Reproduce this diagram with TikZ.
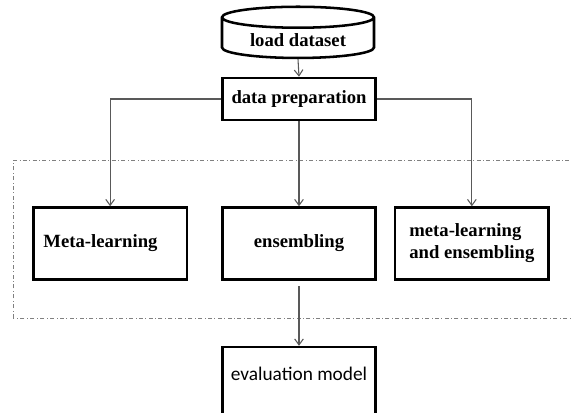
\documentclass[tikz,border=0pt]{standalone}
\usepackage{fontspec}
\setmainfont{Liberation Serif}
\newfontfamily\calibrifont{Carlito}
\usetikzlibrary{arrows,arrows.meta,positioning,shapes.geometric}
\tikzset{
    %Define standard arrow tip
    >={Straight Barb[length=4.5pt,width=6.5pt]},
    %Define style for boxes
    stage/.style={
           rectangle,
           draw=black, line width=1.9pt,
           minimum width=115pt,
           minimum height=54pt,
           font=\fontsize{14}{16.5}\selectfont\bfseries,
           text centered,
           fill=white},
    dbase/.style={
           cylinder,
           shape border rotate=90,
           aspect=0.2,
           draw=black, line width=1.9pt,
           minimum width=114pt,
           minimum height=34pt,
           font=\fontsize{14}{16.5}\selectfont\bfseries,
           fill=white},
    % Define arrow style
    pil/.style={
           ->,
           draw=black!65,
           line width=0.8pt},
    group/.style={
           draw=black!50,
           dash dot,
           line width=0.6pt}
}
\begin{document}
\begin{tikzpicture}[node distance=15pt]
\useasboundingbox (0,0) rectangle (428.25pt,309pt);

% dash-dot frame round the three methods
\draw[group] (9.75pt,70.5pt) rectangle (432pt,189pt);

\node[dbase] (load) at (223.5pt,279pt) {load dataset};
\node[stage, minimum height=31.5pt] (prep) at (224.25pt,234.75pt) {data preparation};
\node[stage, below=63.75pt of prep] (ens) {ensembling};
\node[stage, left=24.75pt of ens, text width=100pt, align=left, inner xsep=7.5pt] (meta) {Meta-learning};
\node[stage, right=12.75pt of ens, align=left] (both) {meta-learning\\and ensembling};
\node[stage, below=48.75pt of ens, minimum height=60pt,
      font=\fontsize{14.5}{17}\calibrifont, text height=10pt, text depth=20pt] (eval) {evaluation model};

\draw[pil] (load.south) -- (prep.north);
\draw[pil] (prep.west) -| (meta.north);
\draw[pil] (prep.south) -- (ens.north);
\draw[pil] (prep.east) -| (both.north);
\draw[pil, shorten <=4pt] (ens.south) -- (eval.north);
\end{tikzpicture}
\end{document}
